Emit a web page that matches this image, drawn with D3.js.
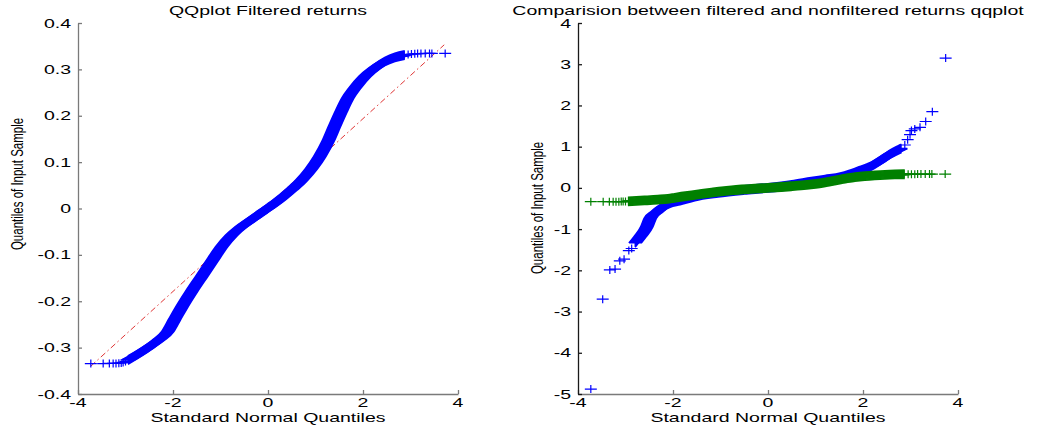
<!DOCTYPE html>
<html>
<head>
<meta charset="utf-8">
<script src="https://cdn.jsdelivr.net/npm/d3@7"></script>
<style>
  html, body { margin: 0; padding: 0; background: #fff; }
  svg { display: block; }
  text { font-family: "Liberation Sans", Arial, Helvetica, sans-serif; fill: #000; }
</style>
</head>
<body>
<svg id="chart" width="1038" height="428"></svg>
<script>
// ---- data -------------------------------------------------------------
const xTickValues = [-4, -2, 0, 2, 4];
const xTickLabels = ["-4", "-2", "0", "2", "4"];

const leftYTickValues = [0.4, 0.3, 0.2, 0.1, 0, -0.1, -0.2, -0.3, -0.4];
const leftYTickLabels = ["0.4", "0.3", "0.2", "0.1", "0", "-0.1", "-0.2", "-0.3", "-0.4"];

const rightYTickValues = [4, 3, 2, 1, 0, -1, -2, -3, -4, -5];
const rightYTickLabels = ["4", "3", "2", "1", "0", "-1", "-2", "-3", "-4", "-5"];

// filtered returns: sparse lower tail, dense body, sparse upper tail
const filteredLowZ = [-3.73, -3.47, -3.34, -3.26, -3.20, -3.14, -3.09, -3.05, -3.00];
const filteredLowQ = [-0.3345, -0.3345, -0.334, -0.334, -0.334, -0.3335, -0.333, -0.332, -0.330];
const filteredBodyZ = [-2.95, -2.60, -2.32, -2.11, -1.97, -1.83, -1.61, -1.40, -1.19, -0.98,
                       -0.77, -0.56, -0.35, -0.14, 0.07, 0.28, 0.49, 0.70, 0.91, 1.09,
                       1.26, 1.40, 1.54, 1.68, 1.83, 2.04, 2.25, 2.46, 2.67, 2.88];
const filteredBodyQ = [-0.327, -0.305, -0.285, -0.265, -0.240, -0.215, -0.179, -0.147, -0.115, -0.083,
                       -0.058, -0.039, -0.024, -0.009, 0.006, 0.022, 0.040, 0.060, 0.085, 0.112,
                       0.144, 0.177, 0.209, 0.238, 0.260, 0.285, 0.303, 0.317, 0.326, 0.331];
const filteredHighZ = [2.95, 3.02, 3.09, 3.15, 3.22, 3.31, 3.40, 3.45, 3.73];
const filteredHighQ = [0.332, 0.333, 0.3335, 0.334, 0.334, 0.3345, 0.3345, 0.3345, 0.3345];

// reference line of the filtered QQ plot (end points)
const refLineZ = [-3.73, 3.71];
const refLineQ = [-0.340, 0.353];

// non-filtered returns
const rawLowZ = [-3.73, -3.48, -3.33, -3.22, -3.12, -3.03, -2.93, -2.87];
const rawLowQ = [-4.88, -2.70, -1.99, -1.97, -1.77, -1.73, -1.52, -1.47];
const rawBodyZ = [-2.80, -2.69, -2.55, -2.48, -2.34, -2.20, -2.06, -1.85, -1.54, -1.05,
                  -0.50, 0.0, 0.50, 0.91, 1.20, 1.52, 1.70, 1.89, 2.08, 2.18,
                  2.39, 2.60, 2.81];
const rawBodyQ = [-1.34, -1.18, -0.94, -0.74, -0.58, -0.45, -0.37, -0.31, -0.21, -0.12,
                  -0.05, 0.0, 0.07, 0.15, 0.20, 0.26, 0.32, 0.40, 0.48, 0.53,
                  0.68, 0.84, 0.96];
const rawHighZ = [2.88, 2.94, 2.99, 3.02, 3.09, 3.20, 3.32, 3.46, 3.74];
const rawHighQ = [1.04, 1.17, 1.29, 1.39, 1.43, 1.47, 1.61, 1.85, 3.15];

// ---- setup ------------------------------------------------------------
const svg = d3.select("#chart");
const SX = 1.5;          // horizontal stretch of glyphs and markers
const FONT = 13;
const BLUE = "#0000ff", GREEN = "#008000", RED = "#e03535";

const zip = (a, b) => a.map((v, i) => [v, b[i]]);

function label(g, x, y, s, anchor, size, rotate) {
  return g.append("text")
    .attr("transform", `translate(${x},${y}) scale(${SX},1)` + (rotate ? " rotate(-90)" : ""))
    .attr("text-anchor", anchor)
    .attr("font-size", size)
    .text(s);
}

function panel(opts) {
  const x = d3.scaleLinear().domain([-4, 4]).range([opts.left, opts.left + 380]);
  const y = d3.scaleLinear().domain(opts.yDomain).range([394, 23]);
  const g = svg.append("g");

  // axes: left and bottom only, ticks pointing inward
  const ax = g.append("g").attr("transform", "translate(0,394)")
    .call(d3.axisBottom(x).tickValues(xTickValues).tickSize(-4).tickSizeOuter(0).tickFormat(""));
  ax.selectAll("path,line").attr("stroke", "#7a7a7a").attr("stroke-width", 1.3);
  const ay = g.append("g").attr("transform", `translate(${opts.left},0)`)
    .call(d3.axisLeft(y).tickValues(opts.yTicks).tickSize(-4).tickSizeOuter(0).tickFormat(""));
  ay.selectAll("path,line").attr("stroke", opts.yAxisColor).attr("stroke-width", 1.3);

  xTickValues.forEach((v, i) => label(g, x(v), 407, xTickLabels[i], "middle", FONT));
  opts.yTicks.forEach((v, i) => label(g, opts.left - 7, y(v) + 4.6, opts.yLabels[i], "end", FONT));

  label(g, opts.left + 190, 14.5, opts.title, "middle", FONT);
  label(g, opts.left + 190, 422, "Standard Normal Quantiles", "middle", FONT);
  label(g, opts.yLabelX, opts.yLabelY, "Quantiles of Input Sample", "middle", 11.5, true);

  return { g, x, y };
}

// dense part of a QQ series: the "+" glyph swept along the sorted quantiles
function drawBody(p, zs, qs, color) {
  const line = d3.line().x(d => p.x(d[0])).y(d => p.y(d[1])).curve(d3.curveMonotoneX);
  const d = line(zip(zs, qs));
  const band = p.g.append("g").attr("fill", "none").attr("stroke", color).attr("stroke-width", 1.8);
  for (let dx = -6; dx <= 6; dx += 1)
    band.append("path").attr("d", d).attr("transform", `translate(${dx},0)`);
  for (let dy = -4; dy <= 4; dy += 1)
    band.append("path").attr("d", d).attr("transform", `translate(0,${dy})`);
}

// individual "+" markers
function drawPoints(p, zs, qs, color) {
  p.g.append("g").attr("stroke", color).attr("stroke-width", 1.2).attr("fill", "none")
    .selectAll("path").data(zip(zs, qs)).join("path")
    .attr("d", d => {
      const cx = p.x(d[0]), cy = p.y(d[1]);
      return `M${cx - 6},${cy}H${cx + 6}M${cx},${cy - 4}V${cy + 4}`;
    });
}

// ---- left panel: filtered returns ------------------------------------
const L = panel({
  left: 78, yDomain: [-0.4, 0.4], yTicks: leftYTickValues, yLabels: leftYTickLabels,
  yAxisColor: "#7a7a7a", title: "QQplot Filtered returns", yLabelX: 23, yLabelY: 184
});
L.g.append("path")
  .attr("d", d3.line().x(d => L.x(d[0])).y(d => L.y(d[1]))(zip(refLineZ, refLineQ)))
  .attr("fill", "none").attr("stroke", RED).attr("stroke-width", 1)
  .attr("stroke-dasharray", "6,3,1.5,3");
drawBody(L, filteredBodyZ, filteredBodyQ, BLUE);
drawPoints(L, filteredLowZ, filteredLowQ, BLUE);
drawPoints(L, filteredHighZ, filteredHighQ, BLUE);

// ---- right panel: filtered vs non-filtered -----------------------------
const R = panel({
  left: 578, yDomain: [-5, 4], yTicks: rightYTickValues, yLabels: rightYTickLabels,
  yAxisColor: "#1a1a1a", title: "Comparision between filtered and nonfiltered returns qqplot",
  yLabelX: 543, yLabelY: 208
});
drawBody(R, rawBodyZ, rawBodyQ, BLUE);
drawPoints(R, rawLowZ, rawLowQ, BLUE);
drawPoints(R, rawHighZ, rawHighQ, BLUE);
drawBody(R, filteredBodyZ, filteredBodyQ, GREEN);
drawPoints(R, filteredLowZ, filteredLowQ, GREEN);
drawPoints(R, filteredHighZ, filteredHighQ, GREEN);
</script>
</body>
</html>
